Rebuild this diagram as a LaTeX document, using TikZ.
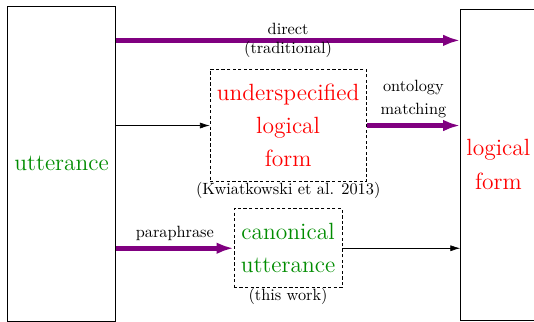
\documentclass[tikz,border=0pt]{standalone}
\usetikzlibrary{arrows.meta, calc, positioning}
\tikzstyle{bigbox} = [rectangle, draw=black, inner xsep=3pt, align=center, font={\Large\linespread{1.13}\selectfont}]
\tikzstyle{midbox} = [rectangle, dash pattern=on 2pt off 1.4pt, draw=black, inner xsep=4.2pt, inner ysep=9pt, align=center, font={\Large\linespread{1.13}\selectfont}]
\tikzstyle{note} = [inner sep=0pt, font=\normalsize]
\tikzstyle{bigarrow} = [violet, line width=3pt, -{Latex[length=10.5pt,width=7.2pt]}]
\tikzstyle{arrow} = [-{Latex[length=6pt,width=3.7pt]}]

\begin{document}
\begin{tikzpicture}
	\useasboundingbox (0,0) rectangle (115.15mm,-69.42mm);
	\node (Utterance) [bigbox, minimum width=23.34mm, minimum height=67.77mm, text=green!55!black] at (13.29mm,-35.33mm) {utterance};
	\node (LogicalForm) [bigbox, minimum width=16.34mm, minimum height=67.07mm, text=red] at (107.47mm,-35.47mm) {logical\\form};
	\node (Underspecified) [midbox, text=red] at (62.14mm,-27.07mm) {underspecified\\logical\\form};
	\node (Canonical) [midbox, text=green!55!black] at (62.11mm,-53.53mm) {canonical\\utterance};
	\node (Kwiatkowski) [note, below = 0pt of Underspecified] {(Kwiatkowski et al. 2013)};
	\node (ThisWork) [note, below = 0pt of Canonical] {(this work)};
	
	\path (Utterance.north east) -- (Utterance.south east) coordinate[pos=0.108] (Utterance1);
	
	\draw [bigarrow] (Utterance1) -- node[text=black, align=center]{direct\\(traditional)} (Utterance1 -| LogicalForm.west);
	\draw [arrow] (Utterance.east |- Underspecified.west) -- (Underspecified.west);
	\draw [bigarrow] (Underspecified.east) -- node[above, text=black, align=center]{ontology\\[2pt]matching} (Underspecified.east -| LogicalForm.west);
	\draw [bigarrow] (Utterance.east |- Canonical.west) -- node[above, text=black]{paraphrase} (Canonical.west);
	\draw [arrow] (Canonical.east) -- (Canonical.east -| LogicalForm.west);
\end{tikzpicture}
\end{document}
